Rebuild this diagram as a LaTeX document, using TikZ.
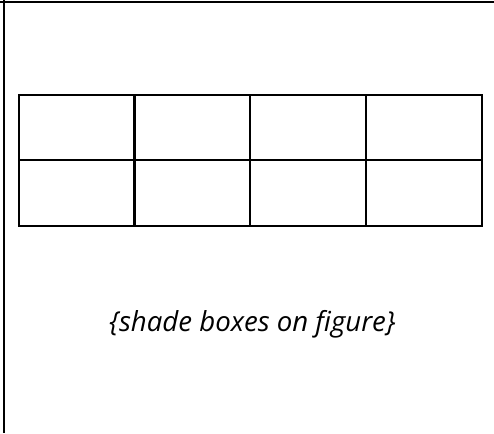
\documentclass[tikz,border=0pt]{standalone}
\usepackage{fontspec}
\setmainfont{Open Sans}
\usepackage{tikz}
\usetikzlibrary{positioning}
\definecolor{Ink}{HTML}{000000}

\begin{document}
\begin{tikzpicture}[x=1pt,y=-1pt]
  \useasboundingbox (0,0) rectangle (494,433);
  \draw[Ink,line width=2.2pt] (0,2) -- (494,2);
  \draw[Ink,line width=2.2pt] (4,0) -- (4,433);
  \foreach \x in {0,1,2,3} {
    \foreach \y in {0,1} {
      \draw[Ink,line width=2.2pt] (18.7+\x*115.8,95+\y*65.35) rectangle ++(115.8,65.35);
    }
  }
  \node[Ink,font=\itshape\fontsize{27.6}{32}\selectfont] (note) at (252.5,324) {\{shade boxes on figure\}};
\end{tikzpicture}
\end{document}
